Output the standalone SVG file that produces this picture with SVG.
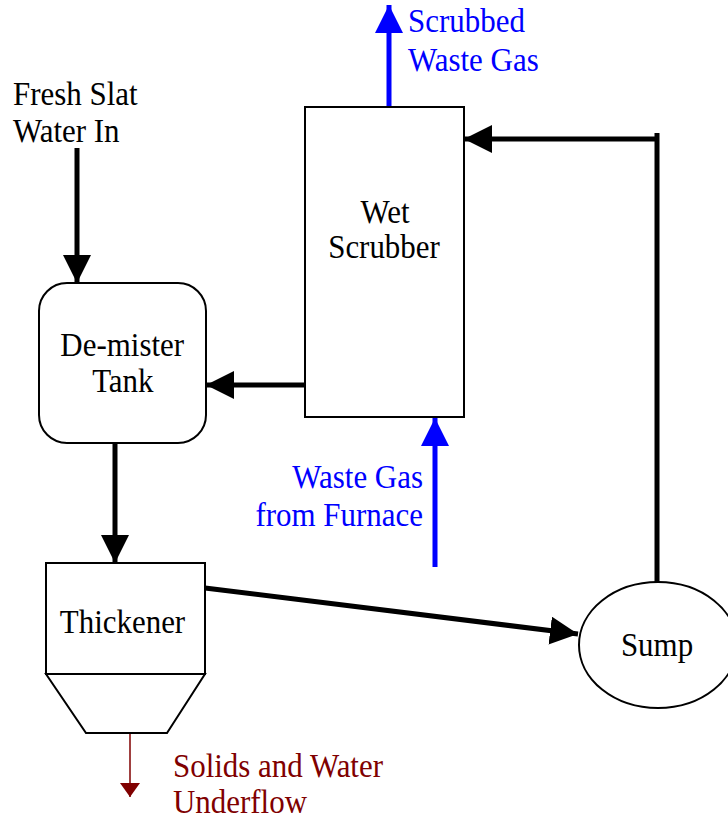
<svg xmlns="http://www.w3.org/2000/svg" width="728" height="823" viewBox="0 0 728 823">
<style>
text{font-family:"Liberation Serif","Times New Roman",serif;font-size:34px}
.k{fill:#000}
.b{fill:#0000ff}
.r{fill:#800000}
.node{fill:#fff;stroke:#000;stroke-width:2}
.ck{stroke:#000;stroke-width:5;fill:none}
.cb{stroke:#0000ff;stroke-width:5;fill:none}
.cr{stroke:#800000;stroke-width:1.5;fill:none}
</style>
<defs>
<marker id="ak" markerUnits="userSpaceOnUse" markerWidth="30" markerHeight="30" refX="28" refY="14" orient="auto"><path d="M0,0 L28,14 L0,28 Z" fill="#000"/></marker>
<marker id="ab" markerUnits="userSpaceOnUse" markerWidth="30" markerHeight="30" refX="28" refY="14" orient="auto"><path d="M0,0 L28,14 L0,28 Z" fill="#0000ff"/></marker>
<marker id="ar" markerUnits="userSpaceOnUse" markerWidth="22" markerHeight="22" refX="14" refY="10" orient="auto"><path d="M0,0 L14,10 L0,20 Z" fill="#800000"/></marker>
</defs>
<g id="connectors">
<line class="cb" x1="389" y1="107" x2="389" y2="5" marker-end="url(#ab)"/>
<line class="ck" x1="77" y1="148" x2="77" y2="283" marker-end="url(#ak)"/>
<line class="ck" x1="305" y1="385" x2="206" y2="385" marker-end="url(#ak)"/>
<line class="ck" x1="115" y1="443" x2="115" y2="563" marker-end="url(#ak)"/>
<line class="ck" x1="205" y1="588" x2="578" y2="634" marker-end="url(#ak)"/>
<polyline class="ck" points="657,583 657,133"/>
<line class="ck" x1="659" y1="139" x2="464" y2="139" marker-end="url(#ak)"/>
<line class="cb" x1="435" y1="567" x2="435" y2="418" marker-end="url(#ab)"/>
<line class="cr" x1="130" y1="734" x2="130" y2="797" marker-end="url(#ar)"/>
</g>
<g id="wet-scrubber">
<rect class="node" x="305" y="107" width="159" height="310"/>
<g transform="scale(0.91 1)" text-anchor="middle">
<text class="k" x="423.1" y="223">Wet</text>
<text class="k" x="422" y="258">Scrubber</text>
</g>
</g>
<g id="demister-tank">
<rect class="node" x="39" y="283" width="167" height="160" rx="28"/>
<g transform="scale(0.91 1)" text-anchor="middle">
<text class="k" x="134.3" y="356">De-mister</text>
<text class="k" x="135" y="392">Tank</text>
</g>
</g>
<g id="thickener">
<rect class="node" x="46" y="563" width="159" height="111"/>
<polygon class="node" points="46,674 205,674 167,733 86,733"/>
<text class="k" transform="scale(0.91 1)" x="134.6" y="633" text-anchor="middle">Thickener</text>
</g>
<g id="sump">
<ellipse class="node" cx="658" cy="645" rx="79" ry="63"/>
<text class="k" transform="scale(0.91 1)" x="722" y="656" text-anchor="middle">Sump</text>
</g>
<g id="labels" transform="scale(0.91 1)">
<text class="b" x="448.4" y="32">Scrubbed</text>
<text class="b" x="448.4" y="71">Waste Gas</text>
<text class="k" x="14.3" y="105">Fresh Slat</text>
<text class="k" x="14.3" y="142">Water In</text>
<text class="b" x="464.8" y="488" text-anchor="end">Waste Gas</text>
<text class="b" x="464.8" y="526" text-anchor="end">from Furnace</text>
<text class="r" x="190.1" y="777">Solids and Water</text>
<text class="r" x="190.1" y="813">Underflow</text>
</g>
</svg>
